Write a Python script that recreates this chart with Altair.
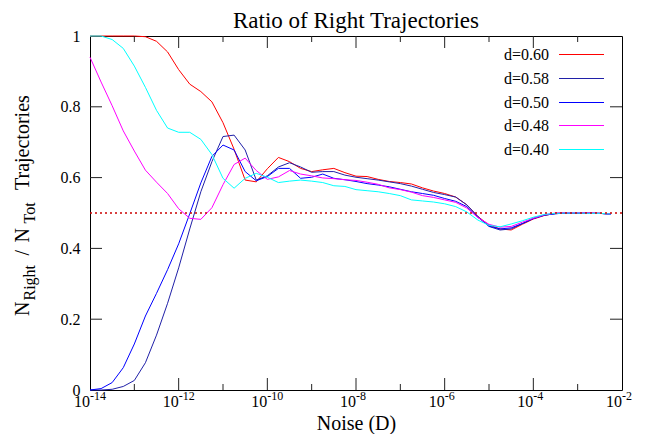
import altair as alt
import pandas as pd

# ---------------- data ----------------
log_noise = [-14.0, -13.75, -13.5, -13.25, -13.0, -12.75, -12.5, -12.25, -12.0, -11.75,
             -11.5, -11.25, -11.0, -10.75, -10.5, -10.25, -10.0, -9.75, -9.5, -9.25,
             -9.0, -8.75, -8.5, -8.25, -8.0, -7.75, -7.5, -7.25, -7.0, -6.75,
             -6.5, -6.25, -6.0, -5.75, -5.5, -5.25, -5.0, -4.75, -4.5, -4.25,
             -4.0, -3.75, -3.5, -3.25, -3.0, -2.75, -2.5, -2.25]

series_names = ["d=0.60", "d=0.58", "d=0.50", "d=0.48", "d=0.40"]
series_colors = ["#ff0000", "#2020a8", "#0000ff", "#ff00ff", "#00ffff"]

ratio_d060 = [1.0, 1.0, 1.0, 1.0, 1.0, 0.998, 0.985, 0.955, 0.905, 0.864,
              0.843, 0.814, 0.755, 0.68, 0.593, 0.588, 0.625, 0.657, 0.645, 0.626,
              0.617, 0.622, 0.626, 0.614, 0.604, 0.603, 0.595, 0.589, 0.586, 0.582,
              0.571, 0.562, 0.555, 0.545, 0.523, 0.49, 0.466, 0.455, 0.452, 0.468,
              0.483, 0.493, 0.499, 0.501, 0.5, 0.499, 0.499, 0.497]
ratio_d058 = [0.0, 0.0, 0.002, 0.01, 0.027, 0.077, 0.155, 0.245, 0.345, 0.455,
              0.56, 0.645, 0.716, 0.72, 0.678, 0.593, 0.605, 0.63, 0.642, 0.63,
              0.615, 0.617, 0.617, 0.607, 0.601, 0.597, 0.593, 0.588, 0.583, 0.576,
              0.567, 0.558, 0.552, 0.545, 0.523, 0.49, 0.462, 0.452, 0.455, 0.47,
              0.485, 0.494, 0.498, 0.5, 0.5, 0.499, 0.499, 0.496]
ratio_d050 = [0.0, 0.004, 0.021, 0.063, 0.13, 0.209, 0.273, 0.34, 0.413, 0.498,
              0.585, 0.66, 0.692, 0.678, 0.617, 0.591, 0.603, 0.626, 0.626, 0.598,
              0.601, 0.61, 0.598, 0.594, 0.589, 0.583, 0.579, 0.574, 0.567, 0.56,
              0.555, 0.55, 0.541, 0.533, 0.518, 0.488, 0.463, 0.455, 0.458, 0.47,
              0.484, 0.494, 0.498, 0.5, 0.5, 0.5, 0.499, 0.497]
ratio_d048 = [0.94, 0.87, 0.803, 0.732, 0.675, 0.621, 0.587, 0.555, 0.512, 0.485,
              0.482, 0.515, 0.58, 0.637, 0.655, 0.62, 0.595, 0.602, 0.62, 0.61,
              0.605, 0.599, 0.597, 0.594, 0.592, 0.587, 0.581, 0.571, 0.566, 0.559,
              0.549, 0.544, 0.537, 0.53, 0.514, 0.487, 0.468, 0.46, 0.462, 0.474,
              0.485, 0.495, 0.5, 0.501, 0.501, 0.5, 0.499, 0.497]
ratio_d040 = [1.0, 1.0, 0.99, 0.965, 0.915, 0.855, 0.79, 0.74, 0.728, 0.728,
              0.708, 0.665, 0.598, 0.57, 0.598, 0.612, 0.601, 0.586, 0.59, 0.593,
              0.59, 0.586, 0.577, 0.575, 0.566, 0.563, 0.56, 0.555, 0.549, 0.537,
              0.534, 0.531, 0.526, 0.518, 0.503, 0.48, 0.465, 0.461, 0.469, 0.478,
              0.488, 0.496, 0.499, 0.5, 0.5, 0.499, 0.499, 0.497]

reference_level = [0.5]
x_label_exps = [-14, -12, -10, -8, -6, -4, -2]
x_major_exps = [-12, -10, -8, -6, -4]
x_minor_exps = [-13, -11, -9, -7, -5, -3]
y_tick_values = [0, 0.2, 0.4, 0.6, 0.8, 1]
y_inner_ticks = [0.2, 0.4, 0.6, 0.8]

# ---------------- tables ----------------
all_series = [ratio_d060, ratio_d058, ratio_d050, ratio_d048, ratio_d040]
rows = []
for name, vals in zip(series_names, all_series):
    for e, v in zip(log_noise, vals):
        rows.append({"series": name, "noise": 10.0 ** e, "ratio": v})
df = pd.DataFrame(rows)

W, H = 532, 354
F = "Liberation Serif"
TICK = "#222222"
xs = alt.Scale(type="log", domain=[1e-14, 1e-2], nice=False)
ys = alt.Scale(domain=[0, 1], nice=False, zero=False)

xaxis = alt.Axis(title="Noise (D)", labels=False, ticks=False, domain=False, grid=False,
                 titleFont=F, titleFontSize=20, titleFontWeight="normal", titleColor="black",
                 titleBaseline="alphabetic", titleY=39)
yaxis = alt.Axis(title=None, values=y_tick_values, format="~g", ticks=False, tickSize=0,
                 domain=False, grid=False, labelFont=F, labelFontSize=16,
                 labelColor="black", labelPadding=10)

def X():
    return alt.X("noise:Q", scale=xs, axis=xaxis)

def Y():
    return alt.Y("ratio:Q", scale=ys, axis=yaxis)

layers = []
for name, col in zip(series_names, series_colors):
    layers.append(
        alt.Chart(df).transform_filter(alt.datum.series == name)
        .mark_line(color=col, strokeWidth=1)
        .encode(x=X(), y=Y())
    )

ref = alt.Chart(pd.DataFrame({"ratio": reference_level})).mark_rule(
    color="#cc0000", strokeDash=[2, 3], strokeWidth=1.3
).encode(y=Y())

# inward ticks (gnuplot style) on all four sides
xmaj = pd.DataFrame({"noise": [10.0 ** e for e in x_major_exps]})
xmin = pd.DataFrame({"noise": [10.0 ** e for e in x_minor_exps]})
ytk = pd.DataFrame({"ratio": y_inner_ticks})

def xticks(data, length):
    b = alt.Chart(data).mark_rule(color=TICK, strokeWidth=1).encode(
        x=X(), y=alt.value(H), y2=alt.value(H - length))
    t = alt.Chart(data).mark_rule(color=TICK, strokeWidth=1).encode(
        x=X(), y=alt.value(0), y2=alt.value(length))
    return [b, t]

tick_layers = xticks(xmaj, 12) + xticks(xmin, 6)
tick_layers.append(alt.Chart(ytk).mark_rule(color=TICK, strokeWidth=1).encode(
    y=Y(), x=alt.value(0), x2=alt.value(12)))
tick_layers.append(alt.Chart(ytk).mark_rule(color=TICK, strokeWidth=1).encode(
    y=Y(), x=alt.value(W), x2=alt.value(W - 12)))

# x tick labels 10^n
xlab = pd.DataFrame({"noise": [10.0 ** e for e in x_label_exps],
                     "exp": [str(e) for e in x_label_exps]})
base10 = alt.Chart(xlab).mark_text(align="right", baseline="alphabetic", font=F,
                                   fontSize=16, color="black", text="10").encode(
    x=X(), y=alt.value(H + 17))
expo = alt.Chart(xlab).mark_text(align="left", baseline="alphabetic", font=F,
                                 fontSize=12, color="black").encode(
    x=X(), y=alt.value(H + 10), text="exp:N")

# y axis title with subscripts
ypieces = [("N", 20, -61, 280), ("Right", 16, -55.5, 264.5), ("/", 20, -61, 219.5),
           ("N", 20, -61, 206.5), ("Tot", 16, -55.5, 187.5), ("Trajectories", 20, -61, 154)]
ytitle = []
for txt, fs, bx, by in ypieces:
    ytitle.append(alt.Chart(pd.DataFrame({"t": [txt]})).mark_text(
        text=txt, angle=270, align="left", baseline="alphabetic", font=F, fontSize=fs,
        color="black").encode(x=alt.value(bx), y=alt.value(by)))

# chart title
title = alt.Chart(pd.DataFrame({"t": ["Ratio of Right Trajectories"]})).mark_text(
    text="Ratio of Right Trajectories", align="center", baseline="alphabetic", font=F,
    fontSize=23, color="black").encode(x=alt.value(W / 2), y=alt.value(-8))

# legend (label left of line sample, gnuplot style)
legend_layers = []
for i, (name, col) in enumerate(zip(series_names, series_colors)):
    ly = round(18 + i * 23.8) + 0.5
    legend_layers.append(alt.Chart(pd.DataFrame({"t": [name]})).mark_text(
        text=name, align="right", baseline="middle", font=F, fontSize=16, color="black"
    ).encode(x=alt.value(459), y=alt.value(ly)))
    legend_layers.append(alt.Chart(pd.DataFrame({"t": [name]})).mark_rule(
        color=col, strokeWidth=1
    ).encode(x=alt.value(469), x2=alt.value(514), y=alt.value(ly)))

chart = alt.layer(*layers, ref, *tick_layers, base10, expo, *ytitle, title,
                  *legend_layers).properties(
    width=W, height=H,
    autosize=alt.AutoSizeParams(type="none"),
    padding={"left": 82, "top": 28, "right": 20, "bottom": 44},
).configure_view(stroke="black", strokeWidth=1)

chart.save("out.html", embed_options={"renderer": "svg", "actions": False})
